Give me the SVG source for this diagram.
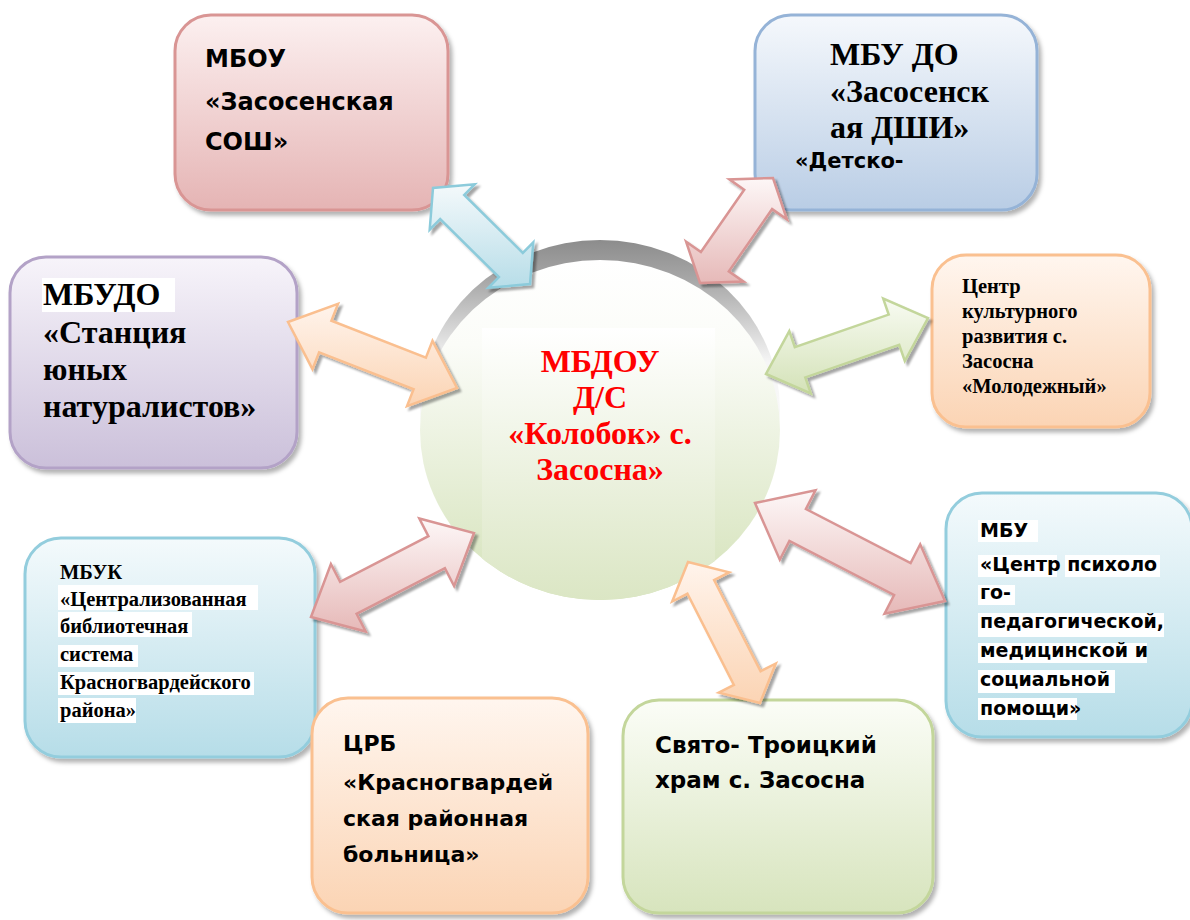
<svg xmlns="http://www.w3.org/2000/svg" width="1190" height="920" viewBox="0 0 1190 920">
<defs>
<linearGradient id="gPink" x1="0" y1="0" x2="0" y2="1"><stop offset="0" stop-color="#fcf0f0"/><stop offset="1" stop-color="#e5b4b4"/></linearGradient>
<linearGradient id="gBlue" x1="0" y1="0" x2="0" y2="1"><stop offset="0" stop-color="#f5f8fc"/><stop offset="1" stop-color="#b9cde5"/></linearGradient>
<linearGradient id="gPurple" x1="0" y1="0" x2="0" y2="1"><stop offset="0" stop-color="#f7f4fa"/><stop offset="1" stop-color="#cbc0da"/></linearGradient>
<linearGradient id="gPeach" x1="0" y1="0" x2="0" y2="1"><stop offset="0" stop-color="#fff6ef"/><stop offset="1" stop-color="#fbd4b4"/></linearGradient>
<linearGradient id="gAqua" x1="0" y1="0" x2="0" y2="1"><stop offset="0" stop-color="#f4fafc"/><stop offset="1" stop-color="#b6dde8"/></linearGradient>
<linearGradient id="gGreen" x1="0" y1="0" x2="0" y2="1"><stop offset="0" stop-color="#fbfdf7"/><stop offset="1" stop-color="#d7e4bd"/></linearGradient>
<linearGradient id="aBlue" x1="0" y1="0" x2="0" y2="1"><stop offset="0" stop-color="#f4f9fb"/><stop offset="1" stop-color="#b7dde8"/></linearGradient>
<linearGradient id="aRed" x1="0" y1="0" x2="0" y2="1"><stop offset="0" stop-color="#fdf7f7"/><stop offset="1" stop-color="#e6b9b8"/></linearGradient>
<linearGradient id="aOrange" x1="0" y1="0" x2="0" y2="1"><stop offset="0" stop-color="#fff4ec"/><stop offset="1" stop-color="#fbd4b4"/></linearGradient>
<linearGradient id="aGreen" x1="0" y1="0" x2="0" y2="1"><stop offset="0" stop-color="#f8fbf2"/><stop offset="1" stop-color="#d4e2b8"/></linearGradient>
<linearGradient id="gGray" x1="0" y1="0" x2="0" y2="1"><stop offset="0" stop-color="#8c8c8c"/><stop offset="0.12" stop-color="#a8a8a8"/><stop offset="0.25" stop-color="#d2d2d2"/><stop offset="0.36" stop-color="#f6f6f6"/><stop offset="1" stop-color="#ffffff"/></linearGradient>
<linearGradient id="gCircle" x1="0" y1="0" x2="0" y2="1"><stop offset="0" stop-color="#ffffff"/><stop offset="0.25" stop-color="#fbfcf8"/><stop offset="1" stop-color="#d4e2b9"/></linearGradient>
<linearGradient id="gText" gradientUnits="userSpaceOnUse" x1="0" y1="328" x2="0" y2="600"><stop offset="0" stop-color="#ffffff"/><stop offset="1" stop-color="#dbe6c4"/></linearGradient>
<clipPath id="circClip"><ellipse cx="600" cy="430" rx="180" ry="170"/></clipPath>
<filter id="sh" x="-10%" y="-10%" width="125%" height="125%"><feDropShadow dx="3" dy="4" stdDeviation="2" flood-color="#000" flood-opacity="0.3"/></filter>
<filter id="sh2" x="-20%" y="-20%" width="140%" height="140%"><feDropShadow dx="3" dy="3" stdDeviation="1.2" flood-color="#000" flood-opacity="0.35"/></filter>
<style>
.serif{font-family:"Liberation Serif","Times New Roman",serif;font-weight:bold;fill:#000}
.comic{font-family:"DejaVu Sans","Noto Sans",sans-serif;font-weight:bold;fill:#000}
.box{stroke-width:3;filter:url(#sh)}
.arr{stroke-width:2.5;stroke-linejoin:miter;filter:url(#sh2)}
.hl{fill:#ffffff}
.red{font-family:"Liberation Serif","Times New Roman",serif;font-weight:bold;fill:#ff0000;font-size:32px;text-anchor:middle}
</style>
</defs>
<rect width="1190" height="920" fill="#ffffff"/>

<g id="center">
<ellipse cx="600" cy="410" rx="180" ry="170" fill="url(#gGray)"/>
<ellipse cx="600" cy="430" rx="180" ry="170" fill="url(#gCircle)"/>
<rect x="482" y="328" width="233" height="280" fill="url(#gText)" clip-path="url(#circClip)"/>
<text class="red" x="600" y="372">МБДОУ</text>
<text class="red" x="600" y="408">Д/С</text>
<text class="red" x="600" y="444">«Колобок» с.</text>
<text class="red" x="600" y="480">Засосна»</text>
</g>

<g id="mbou">
<rect class="box" x="175" y="15" width="273" height="195" rx="36" fill="url(#gPink)" stroke="#d99594"/>
<text class="comic" font-size="24" x="205" y="67">МБОУ</text>
<text class="comic" font-size="24" x="205" y="110">«Засосенская</text>
<text class="comic" font-size="24" x="205" y="150">СОШ»</text>
</g>

<g id="mbudo-dshi">
<rect class="box" x="755" y="15" width="282" height="195" rx="36" fill="url(#gBlue)" stroke="#95b3d7"/>
<text class="serif" font-size="32" x="830" y="65">МБУ ДО</text>
<text class="serif" font-size="32" x="830" y="102">«Засосенск</text>
<text class="serif" font-size="32" x="830" y="138">ая ДШИ»</text>
<text class="comic" font-size="21" x="795" y="168">«Детско-</text>
</g>

<g id="mbudo-syun">
<rect class="box" x="10" y="257" width="287" height="211" rx="36" fill="url(#gPurple)" stroke="#b3a2c7"/>
<rect class="hl" x="42" y="278" width="133" height="34"/>
<text class="serif" font-size="32" x="43" y="305">МБУДО</text>
<text class="serif" font-size="32" x="43" y="343">«Станция</text>
<text class="serif" font-size="32" x="43" y="380">юных</text>
<text class="serif" font-size="32" x="43" y="417">натуралистов»</text>
</g>

<g id="ckr">
<rect class="box" x="932" y="255" width="218" height="172" rx="34" fill="url(#gPeach)" stroke="#fac090"/>
<text class="serif" font-size="20.5" x="962" y="293">Центр</text>
<text class="serif" font-size="20.5" x="962" y="318">культурного</text>
<text class="serif" font-size="20.5" x="962" y="343">развития с.</text>
<text class="serif" font-size="20.5" x="962" y="368">Засосна</text>
<text class="serif" font-size="20.5" x="962" y="393">«Молодежный»</text>
</g>

<g id="mbuk">
<rect class="box" x="25" y="538" width="290" height="219" rx="36" fill="url(#gAqua)" stroke="#93cddd"/>
<rect class="hl" x="58" y="585" width="200" height="25"/>
<rect class="hl" x="58" y="612" width="134" height="25"/>
<rect class="hl" x="58" y="645" width="80" height="22"/>
<rect class="hl" x="58" y="672" width="196" height="23"/>
<rect class="hl" x="58" y="698" width="78" height="25"/>
<text class="serif" font-size="20.5" x="60" y="579">МБУК</text>
<text class="serif" font-size="20.5" x="60" y="606">«Централизованная</text>
<text class="serif" font-size="20.5" x="60" y="633">библиотечная</text>
<text class="serif" font-size="20.5" x="60" y="661">система</text>
<text class="serif" font-size="20.5" x="60" y="689">Красногвардейского</text>
<text class="serif" font-size="20.5" x="60" y="717">района»</text>
</g>

<g id="mbu-cpmss">
<rect class="box" x="946" y="493" width="246" height="244" rx="36" fill="url(#gAqua)" stroke="#93cddd"/>
<rect class="hl" x="978" y="520" width="60" height="22"/>
<rect class="hl" x="978" y="555" width="79" height="22"/>
<rect class="hl" x="1065" y="555" width="95" height="22"/>
<rect class="hl" x="978" y="585" width="37" height="20"/>
<rect class="hl" x="978" y="613" width="186" height="24"/>
<rect class="hl" x="978" y="643" width="169" height="20"/>
<rect class="hl" x="978" y="670" width="137" height="23"/>
<rect class="hl" x="978" y="698" width="99" height="22"/>
<text class="comic" font-size="19" x="980" y="537">МБУ</text>
<text class="comic" font-size="19" x="980" y="571">«Центр психоло</text>
<text class="comic" font-size="19" x="980" y="599">го-</text>
<text class="comic" font-size="19" x="980" y="628">педагогической,</text>
<text class="comic" font-size="19" x="980" y="657">медицинской и</text>
<text class="comic" font-size="19" x="980" y="686">социальной</text>
<text class="comic" font-size="19" x="980" y="715">помощи»</text>
</g>

<g id="crb">
<rect class="box" x="312" y="698" width="276" height="215" rx="36" fill="url(#gPeach)" stroke="#fac090"/>
<text class="comic" font-size="22" x="343" y="751">ЦРБ</text>
<text class="comic" font-size="22" x="343" y="790">«Красногвардей</text>
<text class="comic" font-size="22" x="343" y="826">ская районная</text>
<text class="comic" font-size="22" x="343" y="862">больница»</text>
</g>

<g id="hram">
<rect class="box" x="623" y="700" width="310" height="213" rx="36" fill="url(#gGreen)" stroke="#c3d69b"/>
<text class="comic" font-size="23" x="655" y="753">Свято- Троицкий</text>
<text class="comic" font-size="23" x="655" y="788">храм с. Засосна</text>
</g>

<g id="connectors">
<polygon class="arr" fill="url(#aBlue)" stroke="#8ccbdb" points="433,188 429.7,229.7 440.2,219.1 498.9,277.1 488.3,287.8 530,284 533.3,242.3 522.8,252.9 464.2,194.9 474.7,184.3"/>
<polygon class="arr" fill="url(#aRed)" stroke="#d99594" points="700,283 743.6,281.6 728.8,271.4 772.1,209.1 786.9,219.3 773,178 729.4,179.4 744.2,189.7 700.9,252 686.1,241.7"/>
<polygon class="arr" fill="url(#aOrange)" stroke="#fabf8f" points="288,322 312.5,369.2 319.1,352.4 413.6,389.3 407,406.1 457,388 432.5,340.8 425.9,357.6 331.4,320.7 338,303.9"/>
<polygon class="arr" fill="url(#aGreen)" stroke="#c3d69b" points="766,374 810.8,393.4 805.3,377.4 899.2,344.9 904.8,361 928,318 883.2,298.6 888.7,314.6 794.8,347.1 789.3,331.1"/>
<polygon class="arr" fill="url(#aRed)" stroke="#d99594" points="755,503 779.8,559.7 789.4,541 894.1,595 884.5,613.7 945,601 920.2,544.3 910.6,563 805.9,509 815.5,490.3"/>
<polygon class="arr" fill="url(#aOrange)" stroke="#fabf8f" points="688,562 672.2,601.5 687.4,593.8 733.9,684.9 718.8,692.6 760,703 775.8,663.5 760.6,671.2 714.1,580.1 729.2,572.4"/>
<polygon class="arr" fill="url(#aRed)" stroke="#d99594" points="311,617 365.7,631.5 356.6,613.8 444.9,568.2 454.1,586 474,533 419.3,518.5 428.4,536.2 340.1,581.8 330.9,564"/>
</g>
</svg>
